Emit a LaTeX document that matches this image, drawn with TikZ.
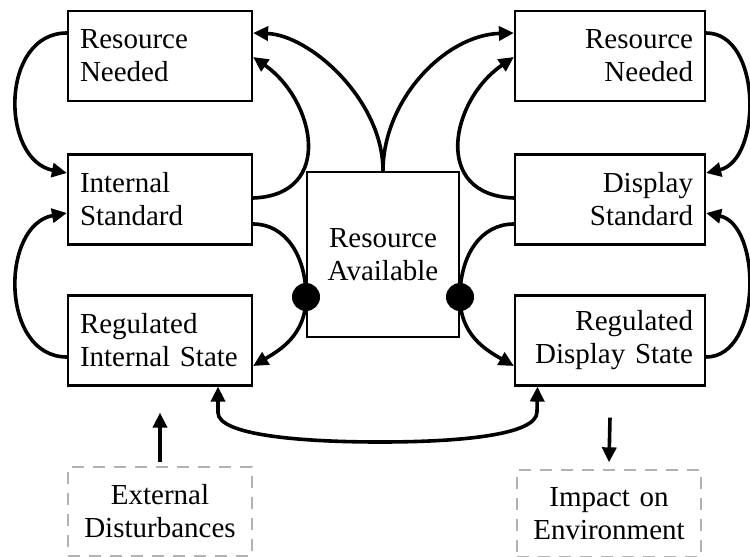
\documentclass[tikz,border=0pt]{standalone}
\usepackage{fontspec}
\setmainfont{Liberation Serif}
\usetikzlibrary{arrows.meta,calc}
\begin{document}
\begin{tikzpicture}[x=1pt,y=-1pt,
  txt/.style={font=\fontsize{29}{33}\selectfont},
  box/.style={txt, draw, line width=2.2pt, minimum height=90pt, inner xsep=12pt, inner ysep=0pt},
  lbox/.style={box, text width=160pt, align=left},
  rbox/.style={box, text width=166pt, align=right},
  cbox/.style={box, text width=128pt, align=center, minimum height=165pt},
  dbox/.style={txt, draw=gray!60, dash pattern=on 12pt off 9pt, line width=1.3pt, text width=160pt, inner xsep=12pt, inner ysep=0pt, align=center},
  tip/.tip={Triangle[length=15pt,width=14pt]},
  conn/.style={line width=3.6pt, -tip},
  plain/.style={line width=3.6pt},
  dot/.style={circle, fill=black, minimum size=28pt, inner sep=0pt}
]
\useasboundingbox (0,0) rectangle (750,557);

% boxes
\node[lbox] (RNL) at (160,56) {Resource\\Needed};
\node[lbox] (IS)  at (160,199.5) {Internal\\Standard};
\node[lbox] (RIS) at (160,340.5) {Regulated\\Internal State};
\node[cbox] (RA)  at (383,254.5) {Resource\\Available};
\node[rbox] (RNR) at (610,56) {Resource\\Needed};
\node[rbox] (DS)  at (610,199.5) {Display\\Standard};
\node[rbox] (RDS) at (610,340.5) {Regulated\\Display State};
\node[dbox, minimum height=89pt] (EXT) at (160,511.5) {External\\Disturbances};
\node[dbox, minimum height=87pt] (IMP) at (609,513.5) {Impact on\\Environment};

\node[dot] (dotL) at (306,297) {};
\node[dot] (dotR) at (460,297) {};

% left loops
\draw[conn] ([yshift=23pt]RNL.west) .. controls (0,33) and (0,160) .. ([yshift=26.5pt]IS.west);
\draw[conn] ([yshift=-16.5pt]RIS.west) .. controls (0,357) and (0,225) .. ([yshift=-13.5pt]IS.west);
\draw[conn] ([yshift=1.5pt]IS.east) .. controls (335,195) and (315,100) .. ([yshift=-1pt]RNL.east);

% right loops
\draw[conn] ([yshift=23pt]RNR.east) .. controls (762,33) and (762,160) .. ([yshift=26.5pt]DS.east);
\draw[conn] ([yshift=-16.5pt]RDS.east) .. controls (762,357) and (762,225) .. ([yshift=-13.5pt]DS.east);
\draw[conn] ([yshift=1.5pt]DS.west) .. controls (431,195) and (451,100) .. ([yshift=-1pt]RNR.west);

% resource available to resource needed
\draw[conn] (RA.north) .. controls (383,100) and (310,35) .. ([yshift=23pt]RNL.east);
\draw[conn] (RA.north) .. controls (383,100) and (445,35) .. ([yshift=23pt]RNR.west);

% through the dots
\draw[plain] ([yshift=-24.5pt]IS.east) .. controls (285,224) and (306,255) .. (dotL.center);
\draw[conn] (dotL.center) .. controls (306,335) and (280,350) .. ([yshift=-25.5pt]RIS.east);
\draw[plain] ([yshift=-24.5pt]DS.west) .. controls (481,224) and (460,255) .. (dotR.center);
\draw[conn] (dotR.center) .. controls (460,335) and (486,350) .. ([yshift=-25.5pt]RDS.west);

% bottom link
\draw[line width=3.6pt, tip-tip] ([xshift=58pt]RIS.south) -- ++(0,26) .. controls (218,435) and (300,442) .. (380,442) .. controls (460,442) and (537,435) .. (537,412) -- ([xshift=-72.5pt]RDS.south);

% environment arrows
\draw[conn] ([yshift=4pt]EXT.north) -- ([yshift=-26pt]RIS.south);
\draw[conn] ([yshift=-31pt]RDS.south) -- ([yshift=7pt]IMP.north);
\end{tikzpicture}
\end{document}
